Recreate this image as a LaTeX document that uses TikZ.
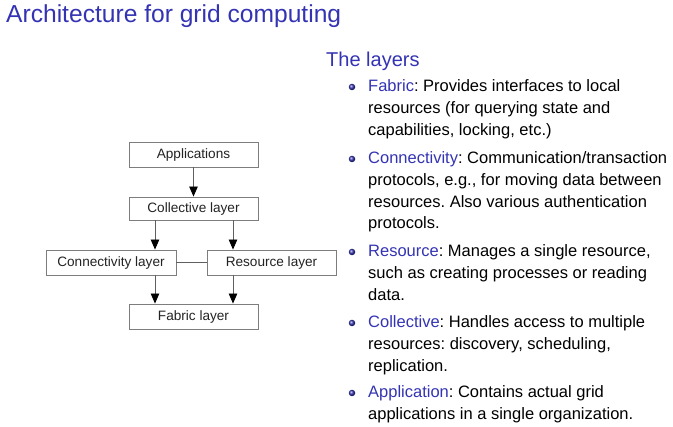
\documentclass[tikz,border=0pt]{standalone}
\usepackage{fontspec}
\setmainfont{Liberation Sans}
\usetikzlibrary{arrows.meta}
\definecolor{struct}{RGB}{51,51,179}
\definecolor{boxline}{RGB}{125,125,125}
\definecolor{shaft}{RGB}{95,95,95}
\definecolor{boxtext}{RGB}{35,35,35}
\frenchspacing
% lines of a bullet text, baseline on the first line
\newcommand{\toplines}[1]{\begin{tabular}[t]{@{}l@{}}#1\end{tabular}}
\begin{document}
\begin{tikzpicture}[x=1pt,y=-1pt,
  layerbox/.style={draw=boxline,line width=0.9pt,inner sep=0pt,
    minimum height=25pt,text=boxtext,font=\fontsize{13.6}{15}\selectfont},
  flow/.style={draw=shaft,line width=0.9pt,
    -{Triangle[length=10pt,width=8.5pt,black]}},
  link/.style={draw=shaft,line width=0.9pt},
  title/.style={anchor=base west,inner sep=0pt,text=struct,
    font=\fontsize{24.6}{28}\selectfont},
  heading/.style={anchor=base west,inner sep=0pt,text=struct,
    font=\fontsize{20}{24}\selectfont},
  item/.style={anchor=base west,inner sep=0pt,
    font=\fontsize{16.5}{21.6}\selectfont},
  dot/.style={circle,inner sep=0pt,minimum size=6.5pt,
    shading=ball,ball color=struct}]
\useasboundingbox (0,0) rectangle (673,427);

% slide title
\node[title] (ttl) at (6,23) {Architecture for grid computing};

% layered architecture
\node[layerbox,minimum width=129pt] (app)  at (193.5,154.5) {Applications};
\node[layerbox,minimum width=129pt,minimum height=23pt] (coll) at (193.5,208.5) {Collective layer};
\node[layerbox,minimum width=130pt] (conn) at (111,262.5) {Connectivity layer};
\node[layerbox,minimum width=129pt] (res)  at (271.5,262.5) {Resource layer};
\node[layerbox,minimum width=129pt] (fab)  at (193.5,316.5) {Fabric layer};

\draw[flow] (app.south) -- (coll.north);
\draw[flow] ([xshift=-38.5pt]coll.south) -- ([xshift=-38.5pt]coll.south |- conn.north);
\draw[flow] ([xshift=39.5pt]coll.south) -- ([xshift=39.5pt]coll.south |- res.north);
\draw[flow] ([xshift=44pt]conn.south) -- ([xshift=44pt]conn.south |- fab.north);
\draw[flow] ([xshift=-38.5pt]res.south) -- ([xshift=-38.5pt]res.south |- fab.north);
\draw[link] (conn.east) -- (res.west);

% description of the layers
\node[heading] (hd) at (326,67) {The layers};

\node[dot] (b1) at (352,87) {};
\node[item] (i1) at (368,92) {\toplines{\textcolor{struct}{Fabric}: Provides interfaces to local\\
  resources (for querying state and\\ capabilities, locking, etc.)}};

\node[dot] (b2) at (352,159) {};
\node[item] (i2) at (368,164) {\toplines{\textcolor{struct}{Connectivity}: Communication/transaction\\
  protocols, e.g., for moving data between\\
  resources. Also various authentication\\ protocols.}};

\node[dot] (b3) at (352,252) {};
\node[item] (i3) at (368,257) {\toplines{\textcolor{struct}{Resource}: Manages a single resource,\\
  such as creating processes or reading\\ data.}};

\node[dot] (b4) at (352,323) {};
\node[item] (i4) at (368,328) {\toplines{\textcolor{struct}{Collective}: Handles access to multiple\\
  resources: discovery, scheduling,\\ replication.}};

\node[dot] (b5) at (352,393) {};
\node[item] (i5) at (368,398) {\toplines{\textcolor{struct}{Application}: Contains actual grid\\
  applications in a single organization.}};
\end{tikzpicture}
\end{document}
